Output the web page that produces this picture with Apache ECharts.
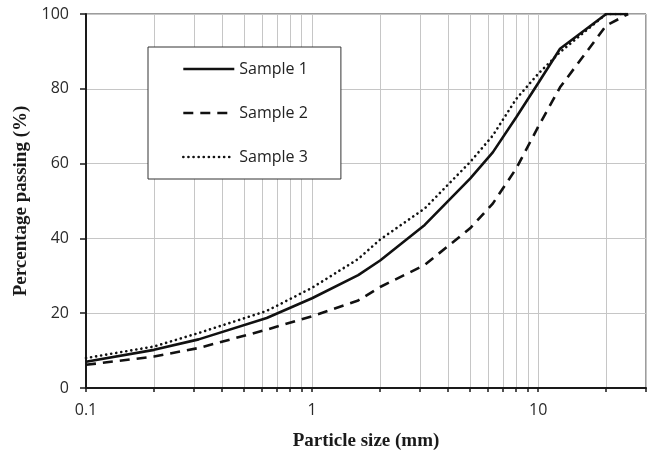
<!DOCTYPE html><html><head><meta charset="utf-8"><script src="https://cdn.jsdelivr.net/npm/echarts@6/dist/echarts.min.js"></script><style>html,body{margin:0;padding:0;background:#fff}#c{width:649px;height:456px}</style></head><body><div id="c"></div><script>
var sizes   = [0.1, 0.2, 0.315, 0.63, 1, 1.6, 2, 3.15, 5, 6.3, 8, 10, 12.5, 20, 25];
var sample1 = [7.0, 10.2, 13.0, 18.7, 24.0, 30.2, 34.1, 43.6, 56.0, 63.0, 72.4, 81.5, 90.7, 100, 100];
var sample2 = [6.2, 8.4, 10.7, 15.6, 19.2, 23.4, 27.0, 32.9, 42.7, 49.3, 58.7, 69.8, 80.4, 96.9, 100];
var sample3 = [8.0, 11.1, 14.7, 20.6, 26.8, 34.5, 39.7, 48.0, 60.4, 67.5, 77.3, 84.0, 89.8, 100, 100];
var xGridValues = [0.1,0.2,0.3,0.4,0.5,0.6,0.7,0.8,0.9,1,2,3,4,5,6,7,8,9,10,20,30];
var xLabelValues = [0.1, 1, 10];
var yTicks = [0, 20, 40, 60, 80, 100];

function pairs(ys){ return sizes.map(function(x,i){ return [x, ys[i]]; }); }
var font = '"Open Sans", sans-serif';
var serif = '"Liberation Serif", "Times New Roman", serif';

var c = echarts.init(document.getElementById('c'));
c.setOption({
  animation: false,
  backgroundColor: '#fff',
  grid: {left: 86, right: 3, top: 14, bottom: 66, show: true, borderColor: '#3a3a3a', borderWidth: 1, backgroundColor: 'transparent'},
  legend: {
    orient: 'vertical', left: 148, top: 47,
    padding: [14, 33, 14, 34], itemGap: 28, itemWidth: 51, itemHeight: 14,
    backgroundColor: '#fff', borderColor: '#333', borderWidth: 1,
    itemStyle: {opacity: 0, borderWidth: 0},
    lineStyle: {width: 2.6},
    textStyle: {fontFamily: font, fontSize: 16, color: '#222'},
    data: ['Sample 1', 'Sample 2', 'Sample 3']
  },
  xAxis: {
    type: 'log', logBase: 10, min: 0.1, max: 30,
    name: 'Particle size (mm)', nameLocation: 'middle', nameGap: 44,
    nameTextStyle: {fontFamily: serif, fontWeight: 'bold', fontSize: 19, color: '#1a1a1a'},
    axisLine: {lineStyle: {color: '#1a1a1a', width: 2}},
    axisTick: {show: true, length: 4, customValues: xGridValues, lineStyle: {color: '#1a1a1a', width: 1.5}},
    axisLabel: {customValues: xLabelValues, fontFamily: font, fontSize: 16, color: '#2a2a2a', margin: 14,
      formatter: function(v){ return String(v); }},
    splitLine: {show: true, lineStyle: {color: '#c6c6c6', width: 1}},
    minorTick: {show: false}, minorSplitLine: {show: false}
  },
  yAxis: {
    type: 'value', min: 0, max: 100, interval: 20,
    name: 'Percentage passing (%)', nameLocation: 'middle', nameGap: 47,
    nameTextStyle: {fontFamily: serif, fontWeight: 'bold', fontSize: 19, color: '#1a1a1a'},
    axisLine: {show: true, lineStyle: {color: '#1a1a1a', width: 2}},
    axisTick: {show: true, length: 6, lineStyle: {color: '#1a1a1a', width: 1.5}},
    axisLabel: {fontFamily: font, fontSize: 16, color: '#2a2a2a', margin: 17,
      formatter: function(v){ return yTicks.indexOf(v) >= 0 ? String(v) : ''; }},
    splitLine: {show: true, lineStyle: {color: '#c6c6c6', width: 1}}
  },
  series: [
    {name: 'Sample 1', type: 'line', data: pairs(sample1), symbol: 'none', smooth: false,
     lineStyle: {color: '#111', width: 2.6, type: 'solid'}, itemStyle: {color: '#111'}, z: 3},
    {name: 'Sample 2', type: 'line', data: pairs(sample2), symbol: 'none', smooth: false,
     lineStyle: {color: '#111', width: 2.6, type: [10, 7]}, itemStyle: {color: '#111'}, z: 2},
    {name: 'Sample 3', type: 'line', data: pairs(sample3), symbol: 'none', smooth: false,
     lineStyle: {color: '#111', width: 2.6, type: [0.1, 5], cap: 'round'}, itemStyle: {color: '#111'}, z: 1}
  ]
});
</script></body></html>
